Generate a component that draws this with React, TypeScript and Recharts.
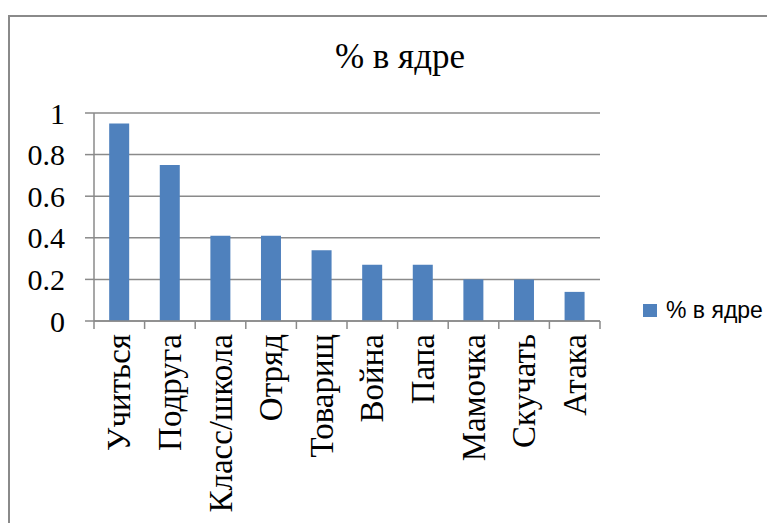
import React from 'react';
import { BarChart, Bar, XAxis, YAxis, CartesianGrid, Legend } from 'recharts';

const categories = ['Учиться', 'Подруга', 'Класс/школа', 'Отряд', 'Товарищ', 'Война', 'Папа', 'Мамочка', 'Скучать', 'Атака'];
const values = [0.95, 0.75, 0.41, 0.41, 0.34, 0.27, 0.27, 0.2, 0.2, 0.14];
const yTicks = [0, 0.2, 0.4, 0.6, 0.8, 1];
const seriesName = '% в ядре';
const title = '% в ядре';

const data = categories.map((c, i) => ({ name: c, value: values[i] }));

const W = 765;
const H = 506;
const MARGIN = { top: 96, right: 175, bottom: 2, left: 0 };
const Y_W = 84;
const X_H = 200;
const PLOT_W = W - MARGIN.left - MARGIN.right - Y_W;
const BAND = PLOT_W / categories.length;
const GRID = '#8a8a8a';
const BLUE = '#4f81bd';
const SERIF = '"Liberation Serif", "Times New Roman", serif';
const SANS = '"Liberation Sans", Arial, sans-serif';

const YTick = (props: any) => {
  const { x, y, payload } = props;
  return (
    <text x={x} y={y} textAnchor="end" dominantBaseline="central" fontFamily={SERIF} fontSize={30} fill="#000">
      {String(payload.value)}
    </text>
  );
};

const XTick = (props: any) => {
  const { x, y, payload, index } = props;
  const axisY = y - 16;
  const last = index === categories.length - 1;
  return (
    <g>
      <line x1={x - BAND / 2} x2={x - BAND / 2} y1={axisY} y2={axisY + 8} stroke={GRID} strokeWidth={1.5} />
      {last && <line x1={x + BAND / 2} x2={x + BAND / 2} y1={axisY} y2={axisY + 8} stroke={GRID} strokeWidth={1.5} />}
      <text
        transform={`translate(${x},${y - 3}) rotate(-90)`}
        textAnchor="end"
        dominantBaseline="central"
        fontFamily={SERIF}
        fontSize={33}
        fill="#000"
      >
        {payload.value}
      </text>
    </g>
  );
};

const LegendContent = () => (
  <div style={{ display: 'flex', alignItems: 'center', fontFamily: SANS, fontSize: 23, color: '#000', whiteSpace: 'nowrap' }}>
    <span style={{ display: 'inline-block', width: 14, height: 13, background: BLUE, marginRight: 9 }} />
    <span>{seriesName}</span>
  </div>
);

export default function App() {
  return (
    <div style={{ paddingTop: 7 }}>
      <div
        style={{
          position: 'relative',
          width: 767,
          height: 508,
          borderLeft: `2px solid ${GRID}`,
          borderTop: `2px solid ${GRID}`,
          boxSizing: 'border-box',
        }}
      >
        <BarChart width={W} height={H} data={data} margin={MARGIN} barCategoryGap="30%">
          <CartesianGrid horizontal vertical={false} stroke={GRID} strokeWidth={1.5} />
          <XAxis
            dataKey="name"
            height={X_H}
            interval={0}
            tickLine={false}
            tickSize={8}
            tickMargin={8}
            axisLine={{ stroke: GRID, strokeWidth: 1.5 }}
            tick={<XTick />}
          />
          <YAxis
            width={Y_W}
            domain={[0, 1]}
            ticks={yTicks}
            interval={0}
            tickSize={9}
            tickMargin={20}
            tickLine={{ stroke: GRID, strokeWidth: 1.5 }}
            axisLine={{ stroke: GRID, strokeWidth: 1.5 }}
            tick={<YTick />}
          />
          <Legend
            layout="vertical"
            align="center"
            verticalAlign="middle"
            content={<LegendContent />}
            wrapperStyle={{ position: 'absolute', left: 633, top: 280, width: 125 }}
          />
          <Bar dataKey="value" name={seriesName} fill={BLUE} isAnimationActive={false} />
        </BarChart>
        <svg width={W} height={80} style={{ position: 'absolute', left: 0, top: 0, pointerEvents: 'none' }}>
          <text x={390} y={51} textAnchor="middle" fontFamily={SERIF} fontSize={35} fill="#000">
            {title}
          </text>
        </svg>
      </div>
    </div>
  );
}
